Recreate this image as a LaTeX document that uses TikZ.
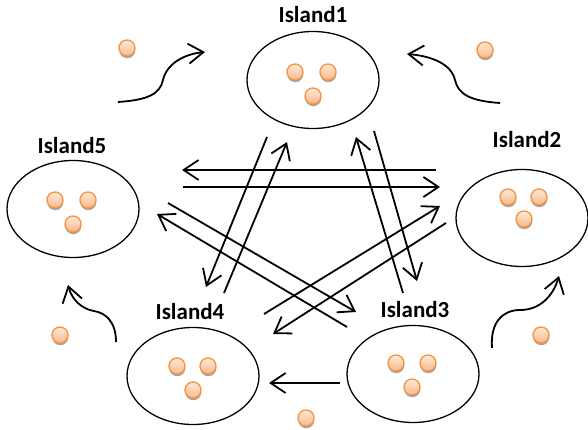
\documentclass[tikz,border=0pt]{standalone}
\usepackage{fontspec}
\setmainfont{Carlito}
\usetikzlibrary{arrows.meta,shadows,shapes.geometric}
\definecolor{balledge}{HTML}{F79646}
\definecolor{balltop}{HTML}{FDEADA}
\definecolor{ballbot}{HTML}{FAB98A}
\begin{document}
\begin{tikzpicture}[x=1pt,y=-1pt,
  island/.style={ellipse, draw, line width=1.3pt, minimum width=132pt, minimum height=97pt, inner sep=0pt},
  lab/.style={font=\fontsize{23}{27}\selectfont\bfseries, inner sep=0pt},
  ball/.style={circle, draw=balledge, line width=1.4pt, top color=balltop, bottom color=ballbot,
    minimum size=16pt, inner sep=0pt,
    drop shadow={shadow xshift=0.3pt, shadow yshift=-2.2pt, fill=black!45, opacity=0.8}},
  arr/.style={line width=1.8pt, -{Straight Barb[length=15pt,width=20pt]}},
]
\useasboundingbox (0,0) rectangle (588,430);

% islands
\node[island] (i1) at (313,80) {};
\node[island] (i2) at (522,218) {};
\node[island] (i3) at (413,374) {};
\node[island] (i4) at (193,376) {};
\node[island] (i5) at (73,209) {};

% labels
\node[lab] (l1) at (313,15) {Island1};
\node[lab] (l2) at (527,140) {Island2};
\node[lab] (l3) at (415,310) {Island3};
\node[lab] (l4) at (190,312) {Island4};
\node[lab] (l5) at (72,146) {Island5};

% balls inside islands
\node[ball] (b1a) at (295,72) {};
\node[ball] (b1b) at (328,72) {};
\node[ball] (b1c) at (313,96) {};
\node[ball] (b2a) at (508,197) {};
\node[ball] (b2b) at (539,197) {};
\node[ball] (b2c) at (524,219) {};
\node[ball] (b3a) at (396,363) {};
\node[ball] (b3b) at (428,363) {};
\node[ball] (b3c) at (412,387) {};
\node[ball] (b4a) at (177,366) {};
\node[ball] (b4b) at (208,366) {};
\node[ball] (b4c) at (193,390) {};
\node[ball] (b5a) at (55,200) {};
\node[ball] (b5b) at (88,200) {};
\node[ball] (b5c) at (73,224) {};

% free balls
\node[ball] (f1) at (127,48) {};
\node[ball] (f2) at (485,50) {};
\node[ball] (f3) at (60,335) {};
\node[ball] (f4) at (541,335) {};
\node[ball] (f5) at (306,418) {};

% arrow end points
\coordinate (a1s) at (436,170); \coordinate (a1e) at (182,170);
\coordinate (a2s) at (183,187); \coordinate (a2e) at (440,187);
\coordinate (a3s) at (267,137); \coordinate (a3e) at (206,287);
\coordinate (a4s) at (224,293); \coordinate (a4e) at (287,142);
\coordinate (a5s) at (403,293); \coordinate (a5e) at (356,137);
\coordinate (a6s) at (374,131); \coordinate (a6e) at (417,281);
\coordinate (a7s) at (168,203); \coordinate (a7e) at (356,312);
\coordinate (a8s) at (347,327); \coordinate (a8e) at (157,214);
\coordinate (a9s) at (264,314); \coordinate (a9e) at (440,206);
\coordinate (a10s) at (446,223); \coordinate (a10e) at (273,334);
\coordinate (a11s) at (340,383); \coordinate (a11e) at (269,383);

\draw[arr] (a1s) -- (a1e);
\draw[arr] (a2s) -- (a2e);
\draw[arr] (a3s) -- (a3e);
\draw[arr] (a4s) -- (a4e);
\draw[arr] (a5s) -- (a5e);
\draw[arr] (a6s) -- (a6e);
\draw[arr] (a7s) -- (a7e);
\draw[arr] (a8s) -- (a8e);
\draw[arr] (a9s) -- (a9e);
\draw[arr] (a10s) -- (a10e);
\draw[arr] (a11s) -- (a11e);

% curved migration arrows
\coordinate (c1s) at (118,102); \coordinate (c1e) at (205,52);
\coordinate (c2s) at (500,103); \coordinate (c2e) at (407,54);
\coordinate (c3s) at (116,342); \coordinate (c3e) at (68,285);
\coordinate (c4s) at (492,348); \coordinate (c4e) at (559,276);

\draw[arr] (c1s) .. controls (148,100) and (160,94) .. (163,80)
  .. controls (167,63) and (185,54) .. (c1e);
\draw[arr] (c2s) .. controls (470,101) and (458,94) .. (455,80)
  .. controls (451,63) and (430,56) .. (c2e);
\draw[arr] (c3s) .. controls (116,322) and (106,313) .. (94,311)
  .. controls (82,309) and (72,300) .. (c3e);
\draw[arr] (c4s) .. controls (490,322) and (503,310) .. (520,310)
  .. controls (540,310) and (553,296) .. (c4e);
\end{tikzpicture}
\end{document}
